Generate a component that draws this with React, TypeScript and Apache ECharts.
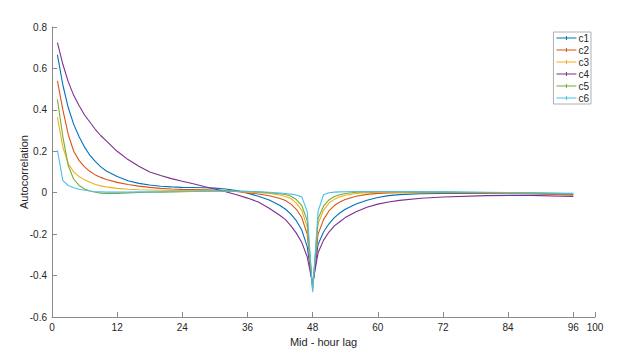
import React, { useEffect, useRef } from "react";
import * as echarts from "echarts";

const lags = [1,2,3,4,5,6,7,8,9,10,12,14,16,18,20,22,24,26,28,30,32,34,36,38,40,42,43,44,45,46,47,48,49,50,51,52,53,54,56,58,60,62,64,68,72,80,88,96];

const c1 = [0.665,0.52,0.41,0.33,0.27,0.22,0.18,0.15,0.125,0.105,0.078,0.058,0.045,0.037,0.031,0.028,0.026,0.025,0.024,0.022,0.018,0.01,-0.002,-0.017,-0.035,-0.062,-0.08,-0.103,-0.135,-0.18,-0.26,-0.45,-0.25,-0.19,-0.15,-0.12,-0.098,-0.08,-0.055,-0.036,-0.023,-0.014,-0.009,-0.005,-0.004,-0.004,-0.005,-0.008];
const c2 = [0.54,0.4,0.28,0.2,0.155,0.125,0.102,0.086,0.074,0.064,0.05,0.04,0.032,0.026,0.021,0.018,0.016,0.015,0.014,0.013,0.01,0.006,0.0,-0.006,-0.015,-0.028,-0.038,-0.055,-0.08,-0.12,-0.2,-0.46,-0.2,-0.13,-0.088,-0.062,-0.045,-0.033,-0.017,-0.008,-0.003,-0.001,0.0,0.0,-0.001,-0.002,-0.004,-0.012];
const c3 = [0.365,0.22,0.14,0.1,0.078,0.062,0.05,0.04,0.033,0.028,0.021,0.017,0.014,0.013,0.012,0.011,0.011,0.01,0.01,0.01,0.008,0.006,0.003,0.0,-0.004,-0.011,-0.018,-0.028,-0.05,-0.085,-0.165,-0.46,-0.15,-0.085,-0.05,-0.032,-0.02,-0.012,-0.004,0.0,0.002,0.003,0.003,0.003,0.002,0.0,-0.002,-0.006];
const c4 = [0.725,0.62,0.535,0.47,0.42,0.375,0.34,0.305,0.275,0.25,0.2,0.16,0.128,0.1,0.083,0.068,0.055,0.043,0.03,0.018,0.005,-0.01,-0.026,-0.045,-0.075,-0.11,-0.13,-0.16,-0.195,-0.24,-0.31,-0.44,-0.29,-0.23,-0.19,-0.16,-0.14,-0.12,-0.092,-0.07,-0.055,-0.045,-0.037,-0.027,-0.021,-0.014,-0.013,-0.018];
const c5 = [0.45,0.27,0.13,0.065,0.035,0.018,0.008,0.002,-0.002,-0.003,-0.003,-0.001,0.001,0.002,0.003,0.004,0.005,0.006,0.007,0.008,0.008,0.008,0.007,0.004,0.0,-0.005,-0.009,-0.017,-0.033,-0.062,-0.135,-0.47,-0.125,-0.065,-0.035,-0.018,-0.01,-0.004,0.002,0.004,0.005,0.005,0.005,0.004,0.003,0.001,-0.001,-0.005];
const c6 = [0.205,0.058,0.035,0.024,0.017,0.012,0.008,0.005,0.004,0.003,0.003,0.003,0.004,0.004,0.005,0.005,0.006,0.006,0.007,0.007,0.007,0.007,0.006,0.004,0.002,-0.002,-0.004,-0.007,-0.011,-0.02,-0.09,-0.48,-0.09,-0.01,0.0,0.003,0.004,0.005,0.006,0.006,0.006,0.006,0.006,0.005,0.004,0.002,0.0,-0.003];

const seriesNames = ["c1", "c2", "c3", "c4", "c5", "c6"];
const seriesValues = [c1, c2, c3, c4, c5, c6];
const colors = ["#0072BD", "#D95319", "#EDB120", "#7E2F8E", "#77AC30", "#4DBEEE"];

const legendIcon = "path://M0,4.45H9.5V3H10.5V4.45H20V5.55H10.5V7H9.5V5.55H0Z";

export default function App() {
  const ref = useRef<HTMLDivElement>(null);
  useEffect(() => {
    if (!ref.current) return;
    const chart = echarts.init(ref.current, undefined, { renderer: "svg" });
    const font = "Liberation Sans, Arial, sans-serif";
    chart.setOption({
      animation: false,
      textStyle: { fontFamily: font },
      grid: { left: 52, right: 28, top: 27, bottom: 39, containLabel: false },
      legend: {
        data: seriesNames.map((n) => ({ name: n, icon: legendIcon })),
        orient: "vertical",
        right: 32,
        top: 32,
        itemWidth: 20,
        itemHeight: 10,
        itemGap: 2,
        padding: [1, 2, 1, 3],
        borderColor: "#b0b0b0",
        borderWidth: 1,
        backgroundColor: "#fff",
        borderRadius: 0,
        textStyle: { fontSize: 10, color: "#262626", fontFamily: font, padding: [0, 0, 0, -3] },
      },
      xAxis: {
        type: "value",
        min: 0,
        max: 100,
        interval: 12,
        name: "Mid - hour lag",
        nameLocation: "middle",
        nameGap: 19,
        nameMoveOverlap: false,
        nameTextStyle: { fontSize: 11, color: "#262626", fontFamily: font },
        axisLine: { show: true, onZero: false, lineStyle: { color: "#8a8a8a", width: 1 } },
        axisTick: { show: true, inside: true, length: 5, lineStyle: { color: "#8a8a8a" } },
        axisLabel: { fontSize: 10, color: "#262626", margin: 5, fontFamily: font },
        splitLine: { show: false },
      },
      yAxis: {
        type: "value",
        min: -0.6,
        max: 0.8,
        interval: 0.2,
        name: "Autocorrelation",
        nameLocation: "middle",
        nameGap: 23,
        nameMoveOverlap: false,
        nameTextStyle: { fontSize: 11, color: "#262626", fontFamily: font },
        axisLine: { show: true, onZero: false, lineStyle: { color: "#8a8a8a", width: 1 } },
        axisTick: { show: true, inside: true, length: 5, lineStyle: { color: "#8a8a8a" } },
        axisLabel: {
          fontSize: 10,
          color: "#262626",
          margin: 5,
          fontFamily: font,
          formatter: (v: number) => String(Math.round(v * 10) / 10),
        },
        splitLine: { show: false },
      },
      series: seriesNames.map((name, i) => ({
        name,
        type: "line",
        data: lags.map((l, j) => [l, seriesValues[i][j]]),
        symbol: "none",
        smooth: false,
        lineStyle: { width: 1.1, color: colors[i] },
        itemStyle: { color: colors[i] },
      })),
    });
    return () => chart.dispose();
  }, []);
  return (
    <div
      ref={ref}
      style={{ position: "absolute", left: 0, top: 0, width: 623, height: 356 }}
    />
  );
}
